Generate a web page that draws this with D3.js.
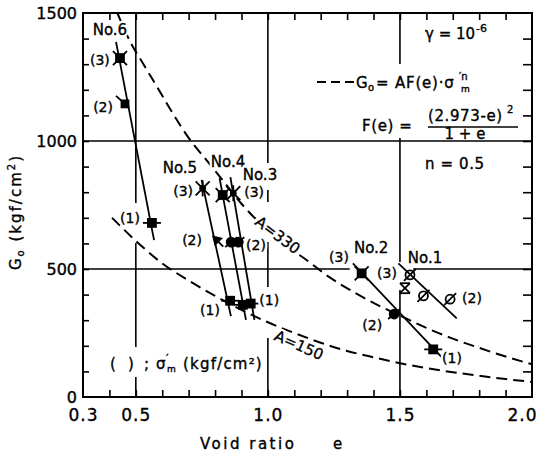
<!DOCTYPE html>
<html><head><meta charset="utf-8">
<script src="https://cdn.jsdelivr.net/npm/d3@7"></script>
<style>
html,body{margin:0;padding:0;background:#fff;}
svg{display:block;font-family:"DejaVu Sans",sans-serif;}
text{fill:#000;stroke:#000;stroke-width:0.35px;}
text.halo{fill:#fff;stroke:#fff;stroke-width:5px;stroke-linejoin:round;}
</style></head><body>
<svg id="chart" width="539" height="456"></svg>
<script>
// ---- axes ----
const xLabelTicks = [0.3, 0.5, 1.0, 1.5, 2.0];
const xMinorTicks = [0.4, 0.5, 0.6, 0.7, 0.8, 0.9, 1.0, 1.1, 1.2, 1.3, 1.4, 1.5, 1.6, 1.7, 1.8, 1.9];
const yLabelTicks = [0, 500, 1000, 1500];
const yMinorTicks = [100, 200, 300, 400, 500, 600, 700, 800, 900, 1000, 1100, 1200, 1300, 1400];

// ---- measured points: index 0,1,2 = stress level (1),(2),(3) ----
const eNo6 = [0.561, 0.459, 0.440], gNo6 = [680, 1145, 1324];
const eNo5 = [0.857, 0.812, 0.753], gNo5 = [376, 607, 815];
const eNo4 = [0.905, 0.861, 0.829], gNo4 = [360, 605, 789];
const eNo3 = [0.935, 0.888, 0.869], gNo3 = [365, 605, 796];
const eNo2 = [1.626, 1.478, 1.355], gNo2 = [186, 324, 483];
const eNo1 = [1.690, 1.589, 1.519, 1.538], gNo1 = [382, 395, 425, 477];

// ---- fitted lines through each sample ----
const fitNo6 = [[0.425, 1387], [0.569, 613]];
const fitNo5 = [[0.749, 848], [0.860, 316]];
const fitNo4 = [[0.817, 855], [0.917, 301]];
const fitNo3 = [[0.858, 859], [0.949, 301]];
const fitNo2 = [[1.322, 522], [1.657, 157]];
const fitNo1 = [[1.494, 522], [1.715, 307]];

// ---- reference curves G0 = A F(e) sigma'^n ----
const curveA330 = [[0.43,1500],[0.48,1385],[0.53,1298],[0.58,1212],[0.64,1108],[0.70,1012],[0.77,922],[0.83,845],[0.90,755],[1.00,650],[1.07,590],[1.14,540],[1.23,470],[1.33,407],[1.43,352],[1.50,318],[1.60,270],[1.70,228],[1.80,192],[1.90,158],[2.00,128]];
const curveA150 = [[0.41,700],[0.50,610],[0.60,522],[0.70,455],[0.80,395],[0.90,340],[1.00,292],[1.10,250],[1.20,212],[1.30,180],[1.40,155],[1.50,132],[1.60,113],[1.70,97],[1.80,83],[1.90,70],[2.00,59]];

// ---- labels ----
const sampleTags = ["No.6", "No.5", "No.4", "No.3", "No.2", "No.1"];
const sampleTagE = [0.402, 0.667, 0.849, 0.970, 1.391, 1.595];
const sampleTagG = [1434, 898, 918, 867, 582, 543];
const stressTags = ["(3)","(2)","(1)","(3)","(3)","(2)","(2)","(1)","(1)","(3)","(3)","(2)","(1)","(2)"];
const stressTagE = [0.364,0.376,0.478,0.679,0.948,0.713,0.955,0.781,1.005,1.269,1.451,1.395,1.697,1.773];
const stressTagG = [1316,1133,699,805,801,613,594,340,379,547,484,281,152,387];

const svg = d3.select("#chart");
const x = d3.scaleLinear().domain([0.3, 2.0]).range([83, 532]);
const y = d3.scaleLinear().domain([0, 1500]).range([397, 13]);

// ---- grid lines (broken where labels sit) ----
const gridV = [
  {e: 0.5, spans: [[1500, 758], [602, 195], [78, 0]]},
  {e: 1.0, spans: [[1500, 914], [809, 762], [605, 430], [230, 0]]},
  {e: 1.5, spans: [[1500, 1297], [1012, 527], [418, 0]]}
];
const gridH = [
  {g: 1000, spans: [[0.3, 2.0]]},
  {g: 500, spans: [[0.3, 1.31], [1.55, 2.0]]}
];
const grid = svg.append("g").attr("stroke", "#000").attr("stroke-width", 1.6);
gridV.forEach(v => v.spans.forEach(s => grid.append("line")
  .attr("x1", x(v.e)).attr("x2", x(v.e)).attr("y1", y(s[0])).attr("y2", y(s[1]))));
gridH.forEach(h => h.spans.forEach(s => grid.append("line")
  .attr("x1", x(s[0])).attr("x2", x(s[1])).attr("y1", y(h.g)).attr("y2", y(h.g))));

// ---- frame and ticks ----
svg.append("rect").attr("x", x(0.3)).attr("y", y(1500))
  .attr("width", x(2.0) - x(0.3)).attr("height", y(0) - y(1500))
  .attr("fill", "none").attr("stroke", "#000").attr("stroke-width", 2);

function tickAxis(axis, transform) {
  const g = svg.append("g").attr("transform", transform).call(axis);
  g.select(".domain").remove();
  g.selectAll(".tick line").attr("stroke", "#000").attr("stroke-width", 1.6);
  return g;
}
tickAxis(d3.axisBottom(x).tickValues(xMinorTicks).tickSize(-7).tickFormat(""), `translate(0,${y(0)})`);
tickAxis(d3.axisTop(x).tickValues(xMinorTicks).tickSize(-7).tickFormat(""), `translate(0,${y(1500)})`);
tickAxis(d3.axisLeft(y).tickValues(yMinorTicks).tickSize(-6).tickFormat(""), `translate(${x(0.3)},0)`);
tickAxis(d3.axisRight(y).tickValues(yMinorTicks).tickSize(-9).tickFormat(""), `translate(${x(2.0)},0)`);

const xl = svg.append("g").attr("transform", `translate(0,${y(0)})`)
  .call(d3.axisBottom(x).tickValues(xLabelTicks).tickSize(0).tickPadding(12).tickFormat(d3.format(".1f")));
xl.select(".domain").remove();
xl.selectAll("text").attr("font-size", 17).attr("letter-spacing", 1).attr("font-family", "DejaVu Sans")
  .attr("dx", d => d === 2.0 ? -10 : 0);
const yl = svg.append("g").attr("transform", `translate(${x(0.3)},0)`)
  .call(d3.axisLeft(y).tickValues(yLabelTicks).tickSize(0).tickPadding(6).tickFormat(d3.format("d")));
yl.select(".domain").remove();
yl.selectAll("text").attr("font-size", 16).attr("font-family", "DejaVu Sans");

// ---- axis titles ----
const yt = svg.append("text").attr("transform", "translate(21,212) rotate(-90)")
  .attr("text-anchor", "middle").attr("font-size", 15).attr("letter-spacing", 2);
yt.append("tspan").text("G");
yt.append("tspan").attr("font-size", 10).attr("dy", 3).text("o");
yt.append("tspan").attr("dy", -3).text(" (kgf/cm");
yt.append("tspan").attr("font-size", 10).attr("dy", -6).text("2");
yt.append("tspan").attr("dy", 6).text(")");

svg.append("text").attr("x", 200).attr("y", 449).attr("font-size", 15)
  .attr("letter-spacing", 2.5).text("Void ratio");
svg.append("text").attr("x", 333).attr("y", 449).attr("font-size", 15).text("e");

// ---- dashed reference curves ----
const curveLine = d3.line().x(d => x(d[0])).y(d => y(d[1])).curve(d3.curveMonotoneX);
[curveA330, curveA150].forEach(c => svg.append("path").attr("d", curveLine(c))
  .attr("fill", "none").attr("stroke", "#000").attr("stroke-width", 2)
  .attr("stroke-dasharray", "11,6"));

// ---- fitted sample lines ----
const segLine = d3.line().x(d => x(d[0])).y(d => y(d[1]));
[fitNo6, fitNo5, fitNo4, fitNo3, fitNo2, fitNo1].forEach(f => svg.append("path")
  .attr("d", segLine(f)).attr("fill", "none").attr("stroke", "#000").attr("stroke-width", 1.8));

// ---- markers ----
function drawMarker(kind, ex, gv) {
  const g = svg.append("g").attr("transform", `translate(${x(ex)},${y(gv)})`)
    .attr("stroke", "#000").attr("stroke-width", 1.8).attr("fill", "#000");
  const ln = (a, b, c, d) => g.append("line").attr("x1", a).attr("y1", b).attr("x2", c).attr("y2", d);
  if (kind === "xsq") {
    g.append("rect").attr("x", -4).attr("y", -4).attr("width", 8).attr("height", 8);
    ln(-7, -7, 7, 7); ln(-7, 7, 7, -7);
  } else if (kind === "sqh") {
    g.append("rect").attr("x", -4).attr("y", -4).attr("width", 8).attr("height", 8);
    ln(-9, 0, 9, 0);
  } else if (kind === "sqd") {
    g.append("rect").attr("x", -3.5).attr("y", -3.5).attr("width", 7).attr("height", 7);
    ln(0, 0, -9, -8);
  } else if (kind === "star") {
    ln(-7, -7, 7, 7); ln(-7, 7, 7, -7); ln(0, -8, 0, 8);
    g.append("circle").attr("r", 2.5);
  } else if (kind === "dot") {
    g.append("circle").attr("r", 4.5);
    ln(-6, 5, 6, -5);
  } else if (kind === "arrow") {
    g.append("path").attr("d", "M-5,-5 L3,-3 L-3,3 Z");
    ln(-5, -5, 5, 5);
  } else if (kind === "ocirc") {
    g.append("circle").attr("r", 4.5).attr("fill", "none");
    ln(-6, 6, 6, -6);
  } else if (kind === "xbox") {
    g.attr("fill", "none");
    ln(-5, -5, 5, 5); ln(-5, 5, 5, -5); ln(-5, -5, 5, -5); ln(-5, 5, 5, 5);
  }
}
const kindsNo6 = ["sqh", "sqd", "xsq"];
const kindsNo5 = ["sqh", "arrow", "star"];
const kindsNo4 = ["sqh", "dot", "xsq"];
const kindsNo3 = ["sqh", "dot", "star"];
const kindsNo2 = ["sqh", "dot", "xsq"];
const kindsNo1 = ["ocirc", "ocirc", "xbox", "ocirc"];
[[eNo6, gNo6, kindsNo6], [eNo5, gNo5, kindsNo5], [eNo4, gNo4, kindsNo4],
 [eNo3, gNo3, kindsNo3], [eNo2, gNo2, kindsNo2], [eNo1, gNo1, kindsNo1]]
  .forEach(([es, gs, ks]) => es.forEach((e, i) => drawMarker(ks[i], e, gs[i])));

// ---- annotation labels (white halo underneath breaks the lines they cross) ----
function label(px, py, str, size, angle) {
  const tf = `translate(${px},${py}) rotate(${angle || 0})`;
  svg.append("text").attr("class", "halo").attr("transform", tf).attr("dy", "0.36em")
    .attr("text-anchor", "middle").attr("font-size", size).text(str);
  svg.append("text").attr("transform", tf).attr("dy", "0.36em")
    .attr("text-anchor", "middle").attr("font-size", size).text(str);
}
sampleTags.forEach((t, i) => label(x(sampleTagE[i]), y(sampleTagG[i]), t, 15));
stressTags.forEach((t, i) => label(x(stressTagE[i]), y(stressTagG[i]), t, 14));
label(x(1.038), y(633), "A=330", 15, 37);
label(x(1.118), y(203), "A=150", 15, 24);

// ---- formula block ----
svg.append("rect").attr("x", 315).attr("y", 64).attr("width", 205).attr("height", 74).attr("fill", "#fff");
svg.append("text").attr("x", 425).attr("y", 39).attr("font-size", 15).text("γ = 10");
svg.append("text").attr("x", 476).attr("y", 32).attr("font-size", 11).text("-6");

svg.append("line").attr("x1", 317).attr("x2", 354).attr("y1", 82).attr("y2", 82)
  .attr("stroke", "#000").attr("stroke-width", 2).attr("stroke-dasharray", "9,5");
svg.append("text").attr("x", 356).attr("y", 88).attr("font-size", 15).attr("letter-spacing", 0.8).text("G");
svg.append("text").attr("x", 368).attr("y", 91).attr("font-size", 10).text("o");
svg.append("text").attr("x", 376).attr("y", 88).attr("font-size", 15).attr("letter-spacing", 0.8).text("= AF(e)·σ");
svg.append("text").attr("x", 459).attr("y", 80).attr("font-size", 10).text("′n");
svg.append("text").attr("x", 461).attr("y", 92).attr("font-size", 9).text("m");

svg.append("text").attr("x", 362).attr("y", 131).attr("font-size", 15).attr("letter-spacing", 0.6).text("F(e)  =");
svg.append("text").attr("x", 428).attr("y", 121).attr("font-size", 15).attr("letter-spacing", 0.6).text("(2.973-e)");
svg.append("text").attr("x", 507).attr("y", 113).attr("font-size", 10).text("2");
svg.append("line").attr("x1", 428).attr("x2", 518).attr("y1", 127).attr("y2", 127)
  .attr("stroke", "#000").attr("stroke-width", 1.6);
svg.append("text").attr("x", 465).attr("y", 139).attr("text-anchor", "middle")
  .attr("font-size", 15).text("1 + e");
svg.append("text").attr("x", 425).attr("y", 169).attr("font-size", 15).attr("letter-spacing", 0.6).text("n = 0.5");

// ---- bracket key ----
function keyText(px, py, str, size, ls) {
  svg.append("text").attr("class", "halo").attr("x", px).attr("y", py).attr("font-size", size)
    .attr("letter-spacing", ls || 0).text(str);
  svg.append("text").attr("x", px).attr("y", py).attr("font-size", size)
    .attr("letter-spacing", ls || 0).text(str);
}
keyText(110, 369, "(", 15);
keyText(128, 369, ")", 15);
keyText(144, 369, ";", 15);
keyText(156, 369, "σ", 15);
keyText(166, 362, "′", 11);
keyText(167, 372, "m", 9);
keyText(183, 369, "(kgf/cm²)", 15, 1.2);
</script>
</body></html>
